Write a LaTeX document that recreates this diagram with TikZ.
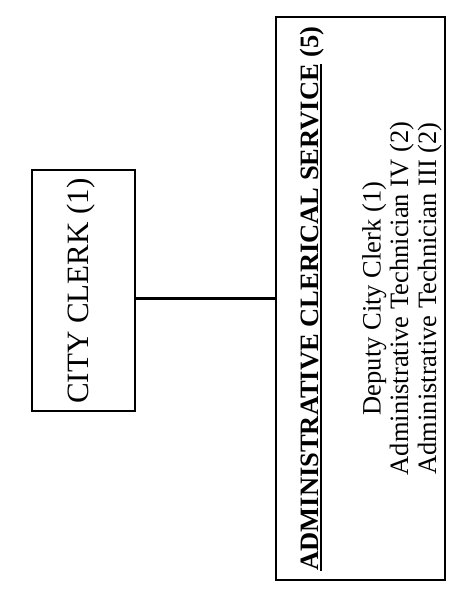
\documentclass[tikz,border=0pt]{standalone}
\usepackage{fontspec}
\setmainfont{Liberation Serif}
% bar under a text, thicker and lower than \underline
\newcommand\barunder[1]{{\setbox0\hbox{#1}\rlap{\rule[-4.2pt]{\wd0}{1.8pt}}\box0}}
\tikzset{
  unitbox/.style={draw=black, line width=2pt, rectangle, inner sep=0pt},
  sidetext/.style={rotate=90, anchor=base, inner sep=0pt, font=\fontsize{26.5pt}{30pt}\selectfont},
  link/.style={draw=black, line width=3pt}
}
\begin{document}
\begin{tikzpicture}[x=1pt, y=1pt]
  \useasboundingbox (0,0) rectangle (460,-598);
  \fill[white] (0,0) rectangle (460,-598);

  % head of the office
  \node[unitbox, minimum width=103pt, minimum height=241pt] (clerk) at (83.5,-290.5) {};
  \node[rotate=90, anchor=base, inner sep=0pt, font=\fontsize{31pt}{34pt}\selectfont]
    (clerkname) at (88,-291) {CITY CLERK (1)};

  % clerical service unit
  \node[unitbox, minimum width=169pt, minimum height=563pt] (acs) at (360.5,-298.5) {};
  \node[sidetext] (acshead) at (318,-298.5) {\bfseries\barunder{ADMINISTRATIVE CLERICAL SERVICE} (5)};
  \node[sidetext] (pos1) at (380.5,-298.5) {Deputy City Clerk (1)};
  \node[sidetext] (pos2) at (408.2,-298.5) {Administrative Technician IV (2)};
  \node[sidetext] (pos3) at (436,-298.5) {Administrative Technician III (2)};

  % reporting line
  \coordinate (linkstart) at ([yshift=-7.5pt]clerk.east);
  \draw[link] (linkstart) -- (linkstart -| acs.west);
\end{tikzpicture}
\end{document}
